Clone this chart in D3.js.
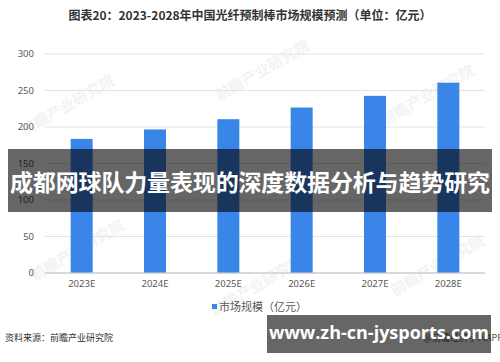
<!DOCTYPE html>
<html>
<head>
<meta charset="utf-8">
<script src="https://cdn.jsdelivr.net/npm/d3@7"></script>
<style>
  body { margin: 0; background: #fff; }
  text { font-family: "Noto Sans CJK SC", "Noto Sans", sans-serif; }
</style>
</head>
<body>
<div id="chart"></div>
<script>
const years = ["2023E", "2024E", "2025E", "2026E", "2027E", "2028E"];
const marketSize = [183, 196, 210, 226, 242, 260];
const yTicks = [0, 50, 100, 150, 200, 250, 300];

const width = 500, height = 362;
const margin = { top: 53.5, left: 45, bottom: 89.5, right: 15 };

const svg = d3.select("#chart").append("svg")
  .attr("width", width)
  .attr("height", height);

// faint watermarks
const marks = [[70, 110], [265, 75], [430, 100], [80, 255], [260, 290], [440, 270]];
marks.forEach(m => {
  svg.append("text")
    .attr("transform", `translate(${m[0]},${m[1]}) rotate(-30)`)
    .attr("font-size", 15)
    .attr("font-weight", "bold")
    .attr("fill", "#f1f3f5")
    .attr("text-anchor", "middle")
    .text("前瞻产业研究院");
});

svg.append("text")
  .attr("x", 250).attr("y", 20)
  .attr("text-anchor", "middle")
  .attr("font-size", 12)
  .attr("font-weight", "bold")
  .attr("fill", "#333")
  .text("图表20：2023-2028年中国光纤预制棒市场规模预测（单位：亿元）");

const x = d3.scaleBand()
  .domain(years)
  .range([margin.left, width - margin.right])
  .paddingInner(0.7)
  .paddingOuter(0.35);

const y = d3.scaleLinear()
  .domain([0, 300])
  .range([height - margin.bottom, margin.top]);

// grid
const grid = svg.append("g")
  .call(d3.axisLeft(y).tickValues(yTicks).tickSize(-(width - margin.left - margin.right)).tickFormat(""))
  .attr("transform", `translate(${margin.left},0)`);
grid.select(".domain").remove();
grid.selectAll("line").attr("stroke", "#e3e3e3");
grid.selectAll(".tick").filter(d => d === 0).select("line")
  .attr("stroke", "#d9d9d9").attr("stroke-width", 2);

// y labels
const yAxis = svg.append("g")
  .attr("transform", `translate(34,0)`)
  .call(d3.axisLeft(y).tickValues(yTicks).tickSize(0).tickPadding(0));
yAxis.select(".domain").remove();
yAxis.selectAll("text")
  .attr("font-size", 9.5)
  .attr("fill", "#595959")
  .style("font-family", "'Noto Sans', sans-serif");

// bars
svg.append("g").selectAll("rect")
  .data(marketSize)
  .join("rect")
  .attr("x", (d, i) => x(years[i]))
  .attr("y", d => y(d))
  .attr("width", x.bandwidth())
  .attr("height", d => y(0) - y(d))
  .attr("fill", "#3a86e8");

// x labels
const xAxis = svg.append("g")
  .attr("transform", `translate(0,${height - margin.bottom + 8})`)
  .call(d3.axisBottom(x).tickSize(0).tickPadding(0));
xAxis.select(".domain").remove();
xAxis.selectAll("text")
  .attr("font-size", 9.5)
  .attr("fill", "#595959")
  .style("font-family", "'Noto Sans', sans-serif");

// legend
svg.append("rect")
  .attr("x", 212).attr("y", 304).attr("width", 5).attr("height", 5)
  .attr("fill", "#3a86e8");
svg.append("text")
  .attr("x", 219).attr("y", 311)
  .attr("font-size", 11)
  .attr("fill", "#595959")
  .text("市场规模（亿元）");

// source
svg.append("text")
  .attr("x", 5).attr("y", 341)
  .attr("font-size", 9)
  .attr("fill", "#333")
  .text("资料来源：前瞻产业研究院");
svg.append("text")
  .attr("x", 503).attr("y", 341)
  .attr("text-anchor", "end")
  .attr("font-size", 9)
  .attr("fill", "#555")
  .text("@前瞻经济学人APP");

// overlay banners
svg.append("rect")
  .attr("x", 8).attr("y", 149).attr("width", 484).attr("height", 63)
  .attr("fill", "rgba(0,0,0,0.6)");
svg.append("text")
  .attr("x", 250).attr("y", 191)
  .attr("text-anchor", "middle")
  .attr("font-size", 23)
  .attr("font-weight", "bold")
  .attr("fill", "#fff")
  .attr("textLength", 480)
  .text("成都网球队力量表现的深度数据分析与趋势研究");

svg.append("rect")
  .attr("x", 267).attr("y", 315).attr("width", 224).attr("height", 38)
  .attr("fill", "rgba(0,0,0,0.6)");
svg.append("text")
  .attr("x", 379).attr("y", 339)
  .attr("text-anchor", "middle")
  .attr("font-size", 18)
  .attr("font-weight", "bold")
  .attr("fill", "#fff")
  .style("font-family", "'Open Sans', 'Noto Sans', sans-serif")
  .text("www.zh-cn-jysports.com");
</script>
</body>
</html>
